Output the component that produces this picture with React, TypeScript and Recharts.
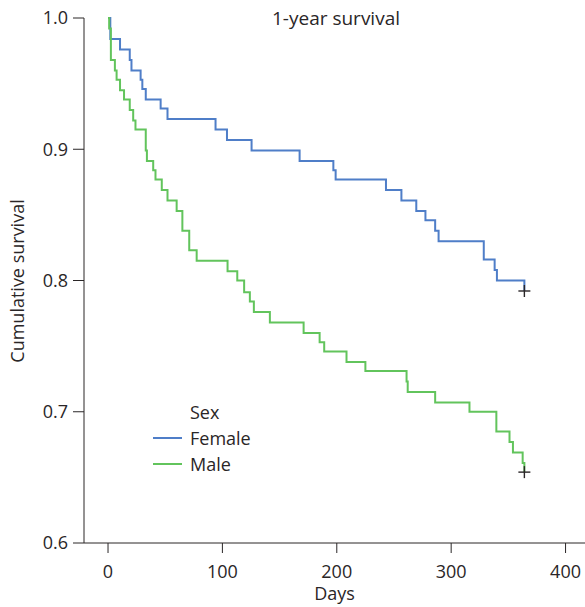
import { ComposedChart, Line, Scatter, XAxis, YAxis, Label } from "recharts";

// Kaplan–Meier steps (day of event, survival after it)
const femaleDays = [0, 2, 10.5, 19, 20.5, 28.5, 30, 33, 46, 52, 94, 104, 125.5, 167.5, 197, 199, 243, 256.5, 269.5, 277.5, 286, 289, 328.5, 338, 340, 364];
const femaleSurv = [1.0, 0.984, 0.976, 0.968, 0.96, 0.953, 0.946, 0.938, 0.931, 0.923, 0.915, 0.907, 0.899, 0.891, 0.884, 0.877, 0.869, 0.861, 0.853, 0.846, 0.838, 0.83, 0.816, 0.808, 0.8, 0.792];

const maleDays = [0, 1, 2.5, 6, 7.5, 10.5, 14, 19, 22, 24, 33, 34, 39.5, 41.5, 47, 52, 60, 65, 71, 77.5, 104.5, 113, 119, 124, 127.5, 141.5, 171, 185, 189, 208.5, 225, 261, 262, 286, 316, 339.5, 351, 354, 362.5, 364];
const maleSurv = [1.0, 0.992, 0.968, 0.96, 0.953, 0.945, 0.938, 0.93, 0.922, 0.915, 0.899, 0.891, 0.884, 0.877, 0.869, 0.861, 0.853, 0.838, 0.823, 0.815, 0.807, 0.8, 0.791, 0.784, 0.776, 0.768, 0.76, 0.753, 0.746, 0.738, 0.731, 0.723, 0.715, 0.707, 0.7, 0.685, 0.677, 0.669, 0.661, 0.654];

// censored at end of follow-up
const censorDays = [364, 364];
const censorSurv = [0.792, 0.654];

const xTicks = [0, 100, 200, 300, 400];
const yTicks = [0.6, 0.7, 0.8, 0.9, 1.0];

const groups = [
  { name: "Female", color: "#4f7ec8" },
  { name: "Male", color: "#62c45c" },
];

const FONT = "'Open Sans', sans-serif";
const INK = "#2a2627";
const FS = 18;

const toRows = (days: number[], surv: number[]) => days.map((day, i) => ({ day, surv: surv[i] }));

function CensorMark(props: any) {
  const { cx, cy } = props;
  return (
    <g stroke={INK} strokeWidth={1.4}>
      <line x1={cx - 6} x2={cx + 6} y1={cy} y2={cy} />
      <line x1={cx} x2={cx} y1={cy - 6} y2={cy + 6} />
    </g>
  );
}

// legend sits inside the plot, so it's drawn as an overlay rather than taking chart space
function SexLegend() {
  return (
    <div
      style={{
        position: "absolute",
        left: 153,
        top: 399,
        fontFamily: FONT,
        fontSize: FS,
        lineHeight: "26px",
        color: INK,
      }}
    >
      <div style={{ paddingLeft: 37 }}>Sex</div>
      {groups.map((g) => (
        <div key={g.name} style={{ display: "flex", alignItems: "center" }}>
          <span style={{ width: 29, height: 2, background: g.color, marginRight: 8 }} />
          <span>{g.name}</span>
        </div>
      ))}
    </div>
  );
}

export default function App() {
  return (
    <div style={{ position: "relative", width: 585, height: 607, background: "#fff" }}>
      <style>{`body{margin:0}`}</style>
      <ComposedChart width={585} height={607} margin={{ top: 18, right: 0, bottom: 0, left: 0 }}>
        <XAxis
          type="number"
          dataKey="day"
          domain={[-21, 417]}
          ticks={xTicks}
          allowDataOverflow
          height={64}
          tickSize={10}
          tickMargin={12}
          stroke={INK}
          tick={{ fill: INK, fontFamily: FONT, fontSize: FS }}
        >
          <Label value="Days" position="insideBottom" offset={7} fill={INK} fontFamily={FONT} fontSize={FS} />
        </XAxis>
        <YAxis
          type="number"
          dataKey="surv"
          domain={[0.6, 1.0]}
          ticks={yTicks}
          width={84}
          tickSize={11}
          tickMargin={5}
          stroke={INK}
          tickFormatter={(v: number) => v.toFixed(1)}
          tick={{ fill: INK, fontFamily: FONT, fontSize: FS }}
        >
          <Label
            content={() => (
              <text
                x={18}
                y={281}
                transform="rotate(-90 18 281)"
                textAnchor="middle"
                dy="0.35em"
                fill={INK}
                fontFamily={FONT}
                fontSize={FS}
              >
                Cumulative survival
              </text>
            )}
          />
        </YAxis>
        <Line
          data={toRows(femaleDays, femaleSurv)}
          dataKey="surv"
          name="Female"
          type="stepAfter"
          stroke={groups[0].color}
          strokeWidth={2}
          dot={false}
          isAnimationActive={false}
        />
        <Line
          data={toRows(maleDays, maleSurv)}
          dataKey="surv"
          name="Male"
          type="stepAfter"
          stroke={groups[1].color}
          strokeWidth={2}
          dot={false}
          isAnimationActive={false}
        />
        <Scatter
          data={toRows(censorDays, censorSurv)}
          dataKey="surv"
          shape={<CensorMark />}
          legendType="none"
          isAnimationActive={false}
        />
      </ComposedChart>
      <div
        style={{
          position: "absolute",
          left: 236,
          width: 200,
          top: 5,
          textAlign: "center",
          fontFamily: FONT,
          fontSize: 19,
          lineHeight: "26px",
          color: INK,
        }}
      >
        1-year survival
      </div>
      <SexLegend />
    </div>
  );
}
